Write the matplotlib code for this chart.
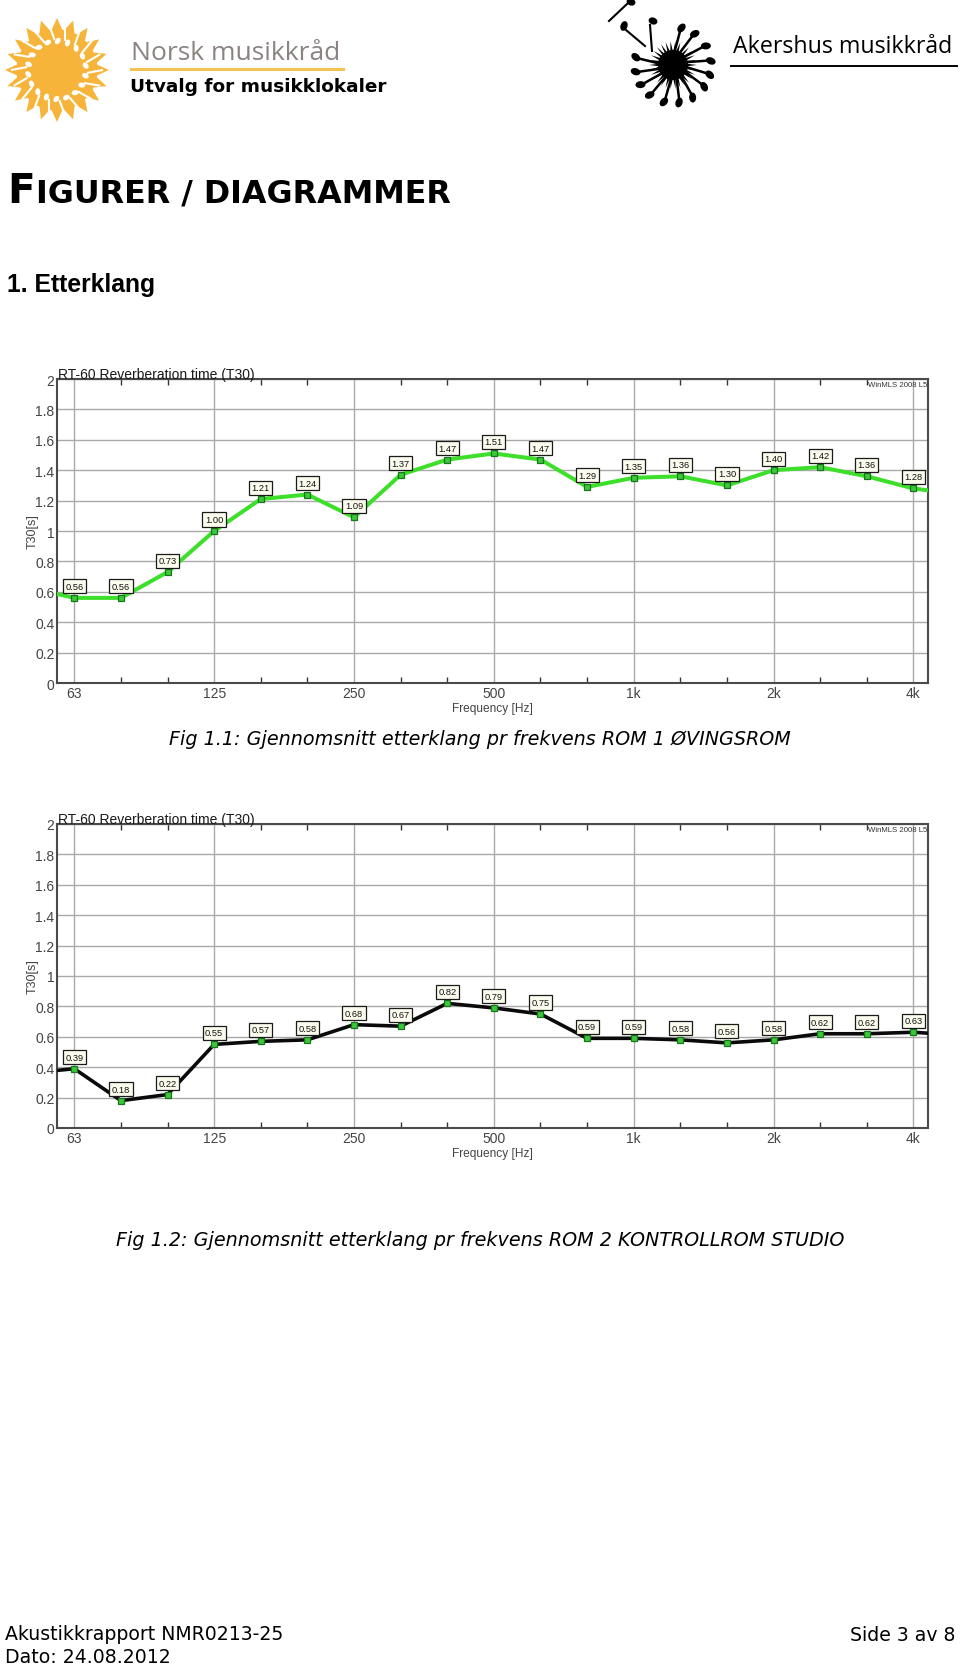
import numpy as np
import matplotlib
matplotlib.use("Agg")
import matplotlib.pyplot as plt
from matplotlib.patches import Polygon, Circle, Ellipse
from matplotlib.lines import Line2D

# ---------------- data ----------------
band_labels = ["63", "80", "100", "125", "160", "200", "250", "315", "400", "500",
               "630", "800", "1k", "1.25k", "1.6k", "2k", "2.5k", "3.15k", "4k"]
octave_labels = ["63", "125", "250", "500", "1k", "2k", "4k"]

rt_rom1 = [0.56, 0.56, 0.73, 1.00, 1.21, 1.24, 1.09, 1.37, 1.47, 1.51,
           1.47, 1.29, 1.35, 1.36, 1.30, 1.40, 1.42, 1.36, 1.28]
rt_rom2 = [0.39, 0.18, 0.22, 0.55, 0.57, 0.58, 0.68, 0.67, 0.82, 0.79,
           0.75, 0.59, 0.59, 0.58, 0.56, 0.58, 0.62, 0.62, 0.63]
# neighbouring bands (50 Hz and 5 kHz), outside the visible range; only the line runs to them
rom1_outer = [0.63, 1.24]
rom2_outer = [0.36, 0.61]

y_ticks = [0, 0.2, 0.4, 0.6, 0.8, 1.0, 1.2, 1.4, 1.6, 1.8, 2.0]

caption1 = "Fig 1.1: Gjennomsnitt etterklang pr frekvens ROM 1 ØVINGSROM"
caption2 = "Fig 1.2: Gjennomsnitt etterklang pr frekvens ROM 2 KONTROLLROM STUDIO"

# ---------------- figure ----------------
W, H = 960, 1665
fig = plt.figure(figsize=(W / 100, H / 100), dpi=100)
fig.patch.set_facecolor("white")

bg = fig.add_axes([0, 0, 1, 1], zorder=0)
bg.set_xlim(0, W)
bg.set_ylim(H, 0)
bg.axis("off")


def rect(l, t, r, b):
    return [l / W, 1 - b / H, (r - l) / W, (b - t) / H]


def star(cx, cy, n, R, r, rot=0.0, **kw):
    pts = []
    for i in range(2 * n):
        a = rot + np.pi * i / n
        rad = R if i % 2 == 0 else r
        pts.append((cx + rad * np.cos(a), cy - rad * np.sin(a)))
    return Polygon(pts, closed=True, **kw)


# ---------------- left logo (sun) ----------------
sun_col = "#f6b53a"
scx, scy = 57, 71
bg.add_patch(star(scx, scy, 20, 52, 39, rot=np.pi / 2, facecolor=sun_col, edgecolor="none"))
bg.add_patch(Circle((scx, scy), 40.5, facecolor=sun_col, edgecolor="none"))
for k in range(18):
    a = 2 * np.pi * k / 18 + 0.15
    hx, hy = scx + 29 * np.cos(a), scy - 29 * np.sin(a)
    bg.add_patch(Ellipse((hx, hy), 7, 5, angle=np.degrees(a) + 40,
                         facecolor="white", edgecolor="none"))
    a2 = a + 0.1
    bg.add_line(Line2D([scx + 30 * np.cos(a2), scx + 46 * np.cos(a2 + 0.1)],
                       [scy - 30 * np.sin(a2), scy - 46 * np.sin(a2 + 0.1)],
                       color="white", lw=1.5, solid_capstyle="butt"))

bg.text(131, 53, "Norsk musikkråd", fontsize=19, family="Open Sans",
        color="#8a8382", va="center", ha="left")
bg.add_line(Line2D([131, 343], [70, 70], color="#f2c253", lw=2.2))
bg.text(130, 87, "Utvalg for musikklokaler", fontsize=13.3, fontweight="bold",
        family="DejaVu Sans", color="black", va="center", ha="left")

# ---------------- right logo ----------------
rcx, rcy = 673, 66
bg.add_patch(star(rcx, rcy, 30, 24, 13, facecolor="black", edgecolor="none"))
bg.add_patch(Circle((rcx, rcy), 15, facecolor="black", edgecolor="none"))
note_angles = [84, 62, 37, 13, -8, -28, -52, -74, -97, -121, -142, -163, 175]
for ang in note_angles:
    a = np.radians(ang)
    bg.add_line(Line2D([rcx + 12 * np.cos(a), rcx + 34 * np.cos(a - 0.1)],
                       [rcy - 12 * np.sin(a), rcy - 34 * np.sin(a - 0.1)],
                       color="black", lw=1.8))
    hx, hy = rcx + 38 * np.cos(a - 0.12), rcy - 38 * np.sin(a - 0.12)
    bg.add_patch(Ellipse((hx, hy), 10, 7, angle=-ang + 35, facecolor="black", edgecolor="none"))
# flying notes
bg.add_line(Line2D([609, 627], [22, 5], color="black", lw=1.5))
bg.add_patch(Ellipse((631, 3), 9, 7, angle=20, facecolor="black"))
bg.add_line(Line2D([626, 645], [31, 47], color="black", lw=1.5))
bg.add_patch(Ellipse((624, 27), 7, 10, angle=20, facecolor="black"))
bg.add_line(Line2D([650, 652], [26, 52], color="black", lw=1.5))
bg.add_patch(Ellipse((653, 22), 9, 7, angle=20, facecolor="black"))

bg.text(733, 47, "Akershus musikkråd", fontsize=16.7, family="Open Sans",
        color="black", va="center", ha="left")
bg.add_line(Line2D([731, 957], [67, 67], color="black", lw=1.4))

# ---------------- headings ----------------
renderer = fig.canvas.get_renderer()
tF = bg.text(7, 203, "F", fontsize=29.2, fontweight="bold", family="DejaVu Sans",
             va="baseline", ha="left")
bb = tF.get_window_extent(renderer=renderer)
bg.text(bb.x1 + 1, 203, "IGURER / DIAGRAMMER", fontsize=22.9, fontweight="bold",
        family="DejaVu Sans", va="baseline", ha="left")
bg.text(7, 292, "1. Etterklang", fontsize=17.8, fontweight="bold",
        family="Liberation Sans", va="baseline", ha="left")


# ---------------- charts ----------------
def draw_chart(ax, values, outer, line_col, line_w):
    n = len(values)
    xs = np.arange(n)
    ax.set_facecolor("white")
    major_idx = [band_labels.index(l) for l in octave_labels]
    minor_idx = [i for i in xs if i not in major_idx]

    x_line = np.arange(-1, n + 1)
    y_line = [outer[0]] + list(values) + [outer[1]]
    ax.plot(x_line, y_line, color=line_col, lw=line_w, zorder=3, solid_joinstyle="round")
    ax.plot(xs, values, linestyle="none", marker="s", markersize=5,
            markerfacecolor="#3cc83a", markeredgecolor="#17751a", markeredgewidth=0.9, zorder=4)
    for x, v in zip(xs, values):
        ax.annotate(f"{v:.2f}", (x, v), xytext=(0, 11.5), textcoords="offset pixels",
                    ha="center", va="center", fontsize=6.7, family="Liberation Sans",
                    color="#111111", zorder=5, annotation_clip=False,
                    bbox=dict(boxstyle="square,pad=0.27", facecolor="#fcfcee",
                              edgecolor="#1a1a1a", lw=0.9))

    ax.set_xlim(-0.365, n - 1 + 0.32)
    ax.set_ylim(0, 2)
    ax.set_xticks(major_idx)
    ax.set_xticklabels(octave_labels, family="Liberation Sans")
    ax.set_xticks(minor_idx, minor=True)
    ax.set_yticks(y_ticks)
    ax.set_yticklabels([f"{v:g}" for v in y_ticks], family="Liberation Sans")
    ax.grid(True, which="major", color="#a9a9a9", lw=1.0, zorder=1)
    ax.set_axisbelow(True)
    ax.tick_params(axis="x", which="major", length=0, pad=2.5, labelsize=10,
                   labelcolor="#444444")
    ax.tick_params(axis="x", which="minor", direction="in", length=4, width=1,
                   color="#333333", top=True, bottom=True)
    ax.tick_params(axis="y", which="major", length=0, pad=2, labelsize=10,
                   labelcolor="#444444")
    for s in ax.spines.values():
        s.set_color("#4a4a4a")
        s.set_linewidth(1.5)
    ax.set_xlabel("Frequency [Hz]", fontsize=8.6, family="Liberation Sans",
                  color="#444444", labelpad=1)
    ax.set_ylabel("T30[s]", fontsize=9, family="Liberation Sans", color="#444444")
    ax.yaxis.set_label_coords(-0.021, 0.5)
    ax.text(0.001, 1.003, "RT-60 Reverberation time (T30)", transform=ax.transAxes,
            ha="left", va="baseline", fontsize=10, family="Liberation Sans", color="#1a1a1a")
    ax.text(0.999, 0.981, "WinMLS 2008 L5", transform=ax.transAxes, ha="right",
            va="center", fontsize=5.6, family="Liberation Sans", color="#333333")


ax1 = fig.add_axes(rect(57.3, 380, 928.3, 684), zorder=1)
draw_chart(ax1, rt_rom1, rom1_outer, "#3ddf2a", 2.9)
ax2 = fig.add_axes(rect(57.3, 825, 928.3, 1129), zorder=1)
draw_chart(ax2, rt_rom2, rom2_outer, "#0a0a0a", 2.6)

# ---------------- captions ----------------
bg.text(480, 740, caption1, fontsize=13.8, style="italic", family="DejaVu Sans",
        ha="center", va="center")
bg.text(480, 1241, caption2, fontsize=13.8, style="italic", family="DejaVu Sans",
        ha="center", va="center")

# ---------------- footer ----------------
bg.text(5, 1640, "Akustikkrapport NMR0213-25", fontsize=13.6, family="DejaVu Sans",
        ha="left", va="baseline")
bg.text(5, 1663, "Dato: 24.08.2012", fontsize=13.6, family="DejaVu Sans",
        ha="left", va="baseline")
bg.text(956, 1641, "Side 3 av 8", fontsize=13.6, family="DejaVu Sans",
        ha="right", va="baseline")

fig.savefig("out.png", dpi=100, facecolor="white")
